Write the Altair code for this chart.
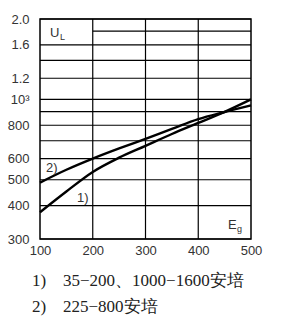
import altair as alt
import pandas as pd

# ---- data ----
eg = [100, 150, 200, 250, 300, 350, 400, 450, 500]
curve1 = [378, 452, 535, 605, 670, 742, 816, 898, 1000]
curve2 = [488, 545, 600, 655, 712, 775, 843, 897, 950]
x_ticks = [100, 200, 300, 400, 500]
y_ticks = [300, 400, 500, 600, 800, 1000, 1200, 1600, 2000]
y_tick_labels = ["300", "400", "500", "600", "800", "10³", "1.2", "1.6", "2.0"]
y_grid = [300, 400, 500, 600, 700, 800, 900, 1000, 1200, 1400, 1600, 2000]
x_grid = [200, 300, 400]
partial_grid_y = [1800]
partial_grid_x = [200, 500]
note_ids = ["1)", "2)"]
notes = ["35−200、1000−1600安培", "225−800安培"]

W, H = 211, 220
xs = alt.Scale(domain=[100, 500], nice=False, zero=False)
ys = alt.Scale(type="log", domain=[300, 2000], nice=False, zero=False)

label_expr = " : ".join(
    f"datum.value == {v} ? '{t}'" for v, t in zip(y_ticks, y_tick_labels)
) + " : ''"

df_lines = pd.DataFrame({
    "Eg": eg * 2,
    "U": curve1 + curve2,
    "s": ["1"] * len(eg) + ["2"] * len(eg),
})

axis_font = "Liberation Sans"

hgrid = alt.Chart(pd.DataFrame({"v": y_grid})).mark_rule(
    color="black", strokeWidth=1.2
).encode(
    y=alt.Y("v:Q", scale=ys, axis=alt.Axis(
        values=y_ticks, labelExpr=label_expr, ticks=False, domain=False,
        grid=False, title=None, labelFont=axis_font, labelFontSize=13,
        labelColor="#333", labelPadding=11, labelOverlap=False,
        labelFlush=False)),
    x=alt.value(0), x2=alt.value(W),
)

pgrid = alt.Chart(pd.DataFrame({"v": partial_grid_y,
                                "a": [partial_grid_x[0]],
                                "b": [partial_grid_x[1]]})).mark_rule(
    color="black", strokeWidth=1.2
).encode(
    y=alt.Y("v:Q", scale=ys),
    x=alt.X("a:Q", scale=xs),
    x2="b:Q",
)

vgrid = alt.Chart(pd.DataFrame({"v": x_grid})).mark_rule(
    color="black", strokeWidth=1.2
).encode(
    x=alt.X("v:Q", scale=xs, axis=alt.Axis(
        values=x_ticks, ticks=False, domain=False, grid=False, title=None,
        labelFont=axis_font, labelFontSize=13, labelColor="#333",
        labelPadding=5, labelFlush=False, labelOverlap=False)),
    y=alt.value(0), y2=alt.value(H),
)

lines = alt.Chart(df_lines).mark_line(
    color="black", strokeWidth=2.4, interpolate="monotone"
).encode(
    x=alt.X("Eg:Q", scale=xs),
    y=alt.Y("U:Q", scale=ys),
    detail="s:N",
)

def txt(text, x, y, size=13, font=axis_font, color="#333", baseline="alphabetic"):
    return alt.Chart(pd.DataFrame({"t": [text]})).mark_text(
        align="left", baseline=baseline, font=font, fontSize=size, color=color
    ).encode(text="t:N", x=alt.value(x), y=alt.value(y))

annos = [
    txt("U", 10, 18, 13),
    txt("L", 20, 21, 9),
    txt("E", 188, 210, 13),
    txt("g", 197, 213, 9),
    txt("2)", 6, 153, 13),
    txt("1)", 37, 183, 13),
]

foot_font = "Liberation Serif"
foot = [
    txt(note_ids[0], -8, 267, 17, foot_font, "#222"),
    txt(notes[0], 23, 267, 17, foot_font, "#222"),
    txt(note_ids[1], -8, 293, 17, foot_font, "#222"),
    txt(notes[1], 23, 293, 17, foot_font, "#222"),
]

chart = alt.layer(hgrid, pgrid, vgrid, lines, *annos, *foot).properties(
    width=W, height=H,
    autosize=alt.AutoSizeParams(type="none"),
    padding={"left": 40, "top": 19, "right": 30, "bottom": 92},
    background="white",
).configure_view(stroke="black", strokeWidth=1.5)

chart.save("out.html", embed_options={"renderer": "svg", "actions": False})
